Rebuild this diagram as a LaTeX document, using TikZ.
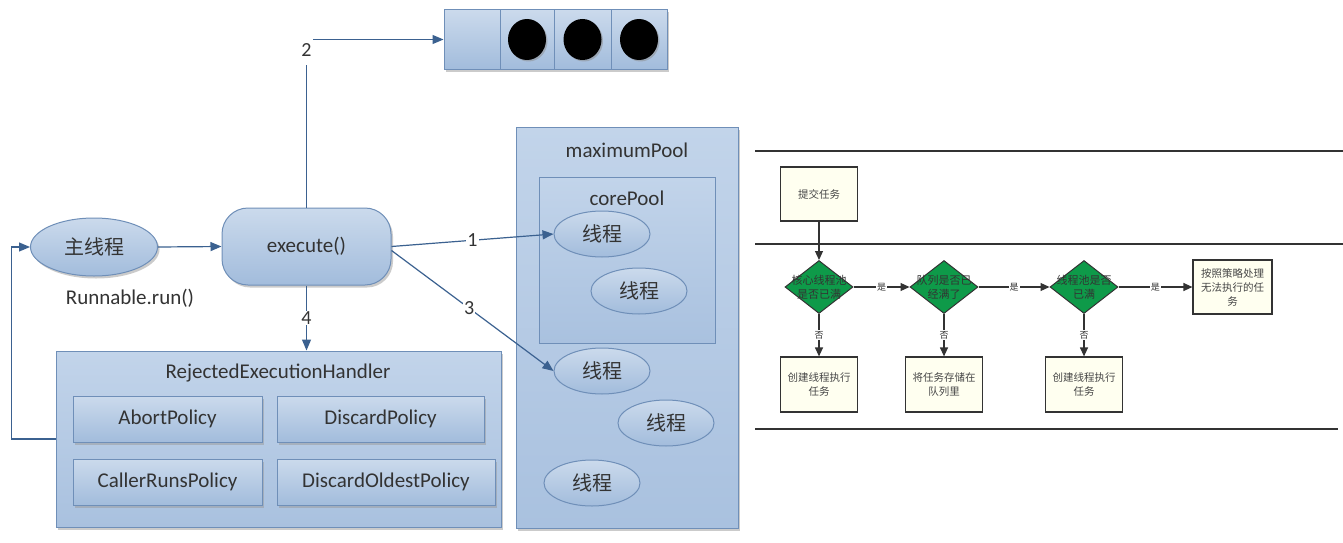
\documentclass[tikz,border=0pt]{standalone}
\usepackage{fontspec}
\setmainfont{Carlito}
\newfontfamily\cjk{Noto Sans CJK SC}
\usetikzlibrary{shapes.geometric,shadows,arrows.meta}
\definecolor{btop}{HTML}{CBDAEC}
\definecolor{bbot}{HTML}{A2BCDC}
\definecolor{otop}{HTML}{C2D4EA}
\definecolor{obot}{HTML}{A9C1DF}
\definecolor{bdraw}{HTML}{6F8FB8}
\definecolor{barrow}{HTML}{3B6190}
\definecolor{ttext}{HTML}{333333}
\definecolor{gfill}{HTML}{0E9A49}
\definecolor{yfill}{HTML}{FFFFF0}
\definecolor{dline}{HTML}{333333}
\begin{document}
\begin{tikzpicture}[x=1pt,y=-1pt,
  shad/.style={drop shadow={shadow xshift=2pt,shadow yshift=-2.5pt,fill=black!40}},
  bluebox/.style={rectangle,draw=bdraw,line width=1pt,top color=btop,bottom color=bbot,shad,inner sep=0pt},
  outerbox/.style={rectangle,draw=bdraw,line width=1pt,top color=otop,bottom color=obot,shad,inner sep=0pt},
  innerbox/.style={rectangle,draw=bdraw,line width=1pt,top color=otop,bottom color=obot,inner sep=0pt},
  thread/.style={ellipse,draw=bdraw,line width=1pt,top color=btop,bottom color=bbot,minimum width=96pt,minimum height=46pt,inner sep=0pt,text=ttext,font=\cjk\fontsize{20}{24}\selectfont},
  qcell/.style={rectangle,draw=bdraw,line width=1pt,top color=btop,bottom color=bbot,shad,minimum height=59pt,inner sep=0pt},
  ball/.style={ellipse,fill=black,minimum width=38pt,minimum height=41pt,inner sep=0pt,drop shadow={shadow xshift=1.5pt,shadow yshift=-1.5pt,fill=black!45}},
  etext/.style={text=ttext,font=\fontsize{21}{25}\selectfont,inner sep=0pt},
  lab/.style={fill=white,inner sep=1pt,text=ttext,font=\fontsize{20}{24}\selectfont},
  arr/.style={draw=barrow,line width=1.2pt,-{Triangle[length=11pt,width=9pt]}},
  hline/.style={draw=dline,line width=1.8pt},
  ybox/.style={rectangle,draw=dline,line width=1.2pt,fill=yfill,inner sep=0pt,align=center,text=ttext!90,font=\cjk\fontsize{10.5}{14}\selectfont},
  dia/.style={diamond,draw=dline,line width=1pt,fill=gfill,minimum width=68pt,minimum height=53pt,inner sep=0pt},
  diatext/.style={align=center,text=ttext,inner sep=0pt,font=\cjk\fontsize{11}{14}\selectfont},
  farr/.style={draw=dline,line width=1.2pt,-{Triangle[length=9pt,width=8pt]}},
  flab/.style={fill=white,inner sep=1pt,text=ttext,font=\cjk\fontsize{9}{10}\selectfont}
]
\useasboundingbox[fill=white] (0,0) rectangle (1343,543);

% queue
\node[qcell,minimum width=56pt] (q0) at (472,39.5) {};
\node[qcell,minimum width=54pt] (q1) at (527,39.5) {};
\node[qcell,minimum width=57pt] (q2) at (582.5,39.5) {};
\node[qcell,minimum width=56pt] (q3) at (639,39.5) {};
\node[ball] (b1) at (q1) {};
\node[ball] (b2) at (q2) {};
\node[ball] (b3) at (q3) {};

% maximum pool
\node[outerbox,minimum width=222pt,minimum height=401pt] (mp) at (627,327.5) {};
\node[etext] (mpt) at (627,150) {maximumPool};
\node[innerbox,minimum width=176pt,minimum height=166pt] (cp) at (627,260) {};
\node[etext] (cpt) at (627,198) {corePool};
\node[thread] (t1) at (602,234) {线程};
\node[thread] (t2) at (639,291) {线程};
\node[thread] (t3) at (602,371) {线程};
\node[thread] (t4) at (666,423) {线程};
\node[thread] (t5) at (592,483) {线程};

% main thread and execute
\node[thread,minimum width=127pt,minimum height=58pt,shad] (m) at (94,247) {主线程};
\node[etext] (rr) at (130,298) {Runnable.run()};
\node[bluebox,rounded corners=26pt,minimum width=169pt,minimum height=77pt,etext] (ex) at (306.5,246.5) {execute()};

% rejected handler
\node[outerbox,minimum width=445pt,minimum height=176pt] (reh) at (278.5,439) {};
\node[etext] (reht) at (278,373) {RejectedExecutionHandler};
\node[bluebox,minimum width=189pt,minimum height=46pt,etext] (ap) at (167.5,419) {AbortPolicy};
\node[bluebox,minimum width=207pt,minimum height=46pt,etext] (dp) at (380.5,419) {DiscardPolicy};
\node[bluebox,minimum width=189pt,minimum height=46pt,etext] (crp) at (167.5,482) {CallerRunsPolicy};
\node[bluebox,minimum width=218pt,minimum height=46pt,etext] (dop) at (386,482) {DiscardOldestPolicy};

% connectors
\draw[arr] (m.east) -- (ex.west);
\draw[arr] (ex.east) -- node[lab]{1} (t1.west);
\draw[arr] ([yshift=-4pt]ex.east) -- node[lab,pos=0.48]{3} (t3.west);
\draw[arr] (ex.south) -- node[lab]{4} (ex.south |- reh.north);
\draw[arr] (ex.north) |- node[lab,pos=0.5,yshift=-11pt,minimum height=30pt,minimum width=13pt]{2} (q0.west);
\draw[arr] (reh.west) -- ++(-44,0) |- (m.west);

% right flowchart
\draw[hline] (755,151) -- (1343,151);
\draw[hline] (755,244) -- (1343,244);
\draw[hline] (755,429) -- (1338,429);

\node[ybox,minimum width=77pt,minimum height=54pt] (s) at (819,194) {提交任务};
\node[dia] (d1) at (819,287) {};
\node[dia] (d2) at (944,287) {};
\node[dia] (d3) at (1084,287) {};
\node[diatext] (d1t) at (d1) {核心线程池\\是否已满};
\node[diatext] (d2t) at (d2) {队列是否已\\经满了};
\node[diatext] (d3t) at (d3) {线程池是否\\已满};
\node[ybox,minimum width=79pt,minimum height=54pt] (r) at (1232.5,287) {按照策略处理\\无法执行的任\\务};
\node[ybox,minimum width=77pt,minimum height=55pt] (c1) at (819,384.5) {创建线程执行\\任务};
\node[ybox,minimum width=77pt,minimum height=55pt] (c2) at (944,384.5) {将任务存储在\\队列里};
\node[ybox,minimum width=77pt,minimum height=55pt] (c3) at (1084,384.5) {创建线程执行\\任务};

\draw[farr] (s.south) -- (d1.north);
\draw[farr] (d1.east) -- node[flab]{是} (d2.west);
\draw[farr] (d2.east) -- node[flab]{是} (d3.west);
\draw[farr] (d3.east) -- node[flab]{是} (r.west);
\draw[farr] (d1.south) -- node[flab]{否} (c1.north);
\draw[farr] (d2.south) -- node[flab]{否} (c2.north);
\draw[farr] (d3.south) -- node[flab]{否} (c3.north);
\end{tikzpicture}
\end{document}
